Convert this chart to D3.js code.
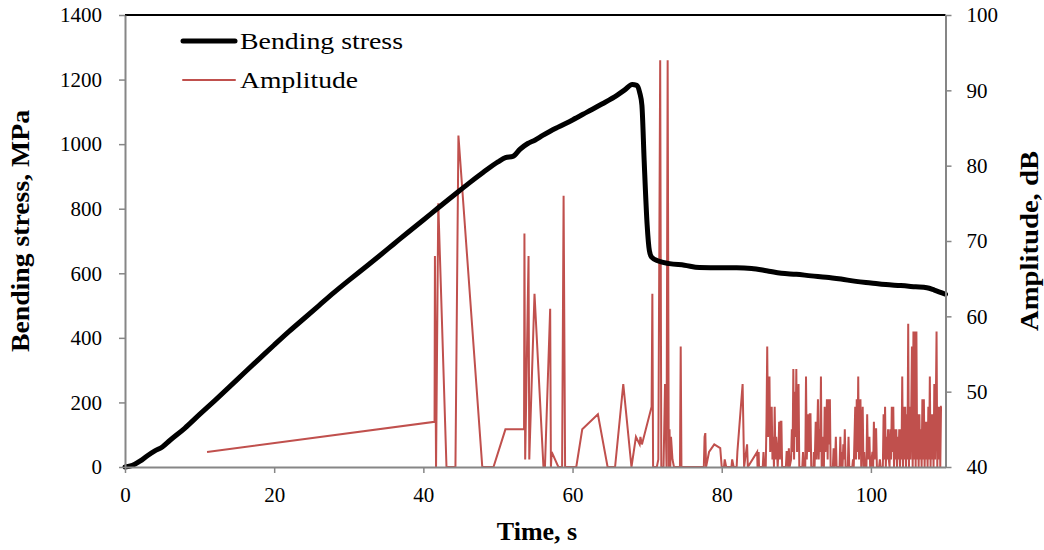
<!DOCTYPE html>
<html>
  <head>
    <meta charset="utf-8">
    <title>bending stress and amplitude</title>
    <style>
      body { margin: 0; background: #fff; }
      .axis path, .axis line { stroke: #868686; }
      .axis text { font-family: "Liberation Serif", serif; font-size: 21px; fill: #000; }
    </style>
  </head>
  <body>
    <div id="container"></div>
    <script src="https://cdn.jsdelivr.net/npm/d3@7"></script>
    <script>
      // bending stress curve (s, MPa)
      var stressTime = [0,1,2,3,4,5,6,8,10,12,14,16,18,20,22,24,26,28,30,32,34,36,38,40,42,44,46,48,50,51,52,53,54,55,56,57,58,60,62,64,66,67,68,68.6,69.0,69.3,69.6,70.0,70.3,70.6,71.5,73,75,77,80,82,84,86,88,90,92,94,96,98,100,102,104,106,107.5,108.5,110];
      var stressMPa  = [0,5,18,35,50,62,82,120,163,205,248,292,335,378,420,460,500,540,578,615,652,690,728,765,803,840,877,912,945,958,962,985,1002,1013,1027,1040,1052,1075,1100,1125,1152,1168,1185,1182,1160,1120,950,750,670,650,638,630,625,618,617,617,615,608,600,597,592,588,582,575,570,565,562,558,555,548,535];

      // acoustic emission amplitude, [time s, amplitude dB]
      var ampPoints = [
        [11.0,42],[41.5,46],[41.55,68],[41.7,40],[42.0,75],[43.1,40],[44.3,40],[44.7,84],[47.9,40],[49.4,40],
        [51.0,45],[53.5,45],[53.55,71],[53.65,41],[54.1,68],[54.2,41],[54.9,63],[56.1,40],[56.3,40],[57.0,61],
        [57.1,40],[57.2,42],[58.1,40],[58.6,40],[58.8,76],[59.0,40],[60.5,40],[61.3,45],[63.4,47],[64.7,40],
        [65.7,40],[66.8,51],[67.9,40],[68.5,44],[69.0,43],[69.1,44],[69.3,43],[70.6,48],[70.7,63],[70.8,40],
        [71.3,40],[71.5,41],[71.75,94],[71.9,40],[72.2,40],[72.4,51],[72.6,40],[72.75,94],[72.9,40],[73.0,45],
        [73.1,40],[73.2,44],[73.4,41],[73.6,40],[74.4,40],[74.5,56],[74.6,40],[77.6,40],[77.7,44],[77.8,44.5],
        [77.9,40],[78.3,42],[79.0,43],[79.8,42.5],[80.0,40],[80.3,40],[80.4,41],[80.6,40],[81.3,40],[81.4,41],
        [81.6,40],[82.0,40],[82.1,42],[82.8,51],[83.0,40],[83.4,43],[83.5,40],
        [84.75,42],[84.8,40],[84.95,42],[85.0,40],[85.5,40],[85.6,42],[85.7,40],[85.9,40],[86.0,46],[86.1,56],
        [86.2,44],[86.3,45],[86.4,52],[86.5,42],[86.6,44],[86.7,48],[86.8,41],[86.9,44],[87.0,40],[87.1,48],
        [87.2,41],[87.3,44],[87.4,42.5],[87.5,40],[87.6,42],[87.7,46],[87.8,41],[87.9,46],[88.0,46],[88.1,40],
        [88.6,40],[88.7,42],[88.8,42],[88.9,40],[89.0,42.5],[89.1,40],[89.3,41],[89.4,45],[89.5,42],[89.6,53],
        [89.7,41],[89.8,50],[89.9,44],[90.0,53],[90.1,42],[90.2,46],[90.3,51],[90.4,40],[90.8,40],[90.9,42],
        [91.0,40],[91.2,40],[91.3,52],[91.4,41],[91.5,44],[91.6,47],[91.7,42],[91.8,47],[91.9,47],[92.0,40],
        [92.3,40],[92.35,42],[92.45,40],[92.6,46],[92.7,41],[92.8,44],[92.9,49],[93.0,41],[93.1,45],[93.2,42],
        [93.3,52],[93.4,40],[93.5,44],[93.6,41],[93.7,40],[93.8,48],[93.9,42],[94.0,44],[94.1,49],[94.2,41],
        [94.3,49],[94.4,43],[94.5,49],[94.6,40],[94.9,40],
        [95.0,42.5],[95.1,40],[95.2,41],[95.3,44],[95.4,40],[95.5,40],[95.8,40],[95.9,44],[96.0,40],[96.1,42],
        [96.2,40],[96.3,43],[96.4,41],[96.5,45],[96.6,40],[96.9,40],[97.0,44],[97.1,40],[97.5,40],[97.6,41],
        [97.7,40],[97.8,44],[97.9,48],[98.0,41],[98.1,49],[98.2,42],[98.3,52],[98.4,41],[98.5,46],[98.6,49],
        [98.7,40],[98.8,44],[98.9,48],[99.0,40],[99.1,42],[99.2,40],[99.3,41],[99.4,40],[99.5,47],[99.6,41],
        [99.7,43],[99.8,44],[99.9,40],[100.0,40],[100.1,41],[100.2,42],[100.3,40],[100.4,46],[100.5,41],[100.6,45],
        [100.7,45],[100.8,40],[101.1,40],[101.2,41],[101.3,40],[101.6,40],[101.7,47],[101.8,41],[101.9,48],[102.0,40],
        [102.1,44],[102.2,41],[102.3,45],[102.4,41],
        [102.5,40],[102.6,45],[102.7,41],[102.8,48],[102.9,42],[103.0,48],[103.1,40],[103.2,45],[103.3,41],[103.4,45],
        [103.5,40],[103.6,44],[103.7,41],[103.8,45],[103.9,40],[104.0,45],[104.1,41],[104.2,52],[104.3,40],[104.4,48],
        [104.5,41],[104.6,48],[104.7,40],[104.8,47],[104.9,41],[105.0,59],[105.1,40],[105.2,48],[105.3,41],[105.4,47],
        [105.5,56],[105.6,40],[105.7,58],[105.8,41],[105.9,58],[106.0,40],[106.1,58],[106.2,41],[106.3,47],[106.4,40],
        [106.5,47],[106.6,41],[106.7,45],[106.8,40],[106.9,49],[107.0,41],[107.1,49],[107.2,40],[107.3,46],[107.4,41],
        [107.5,46],[107.6,40],[107.7,48],[107.8,41],[107.9,52],[108.0,40],[108.1,47],[108.2,41],[108.3,47],[108.4,40],
        [108.5,51],[108.6,41],[108.7,48],[108.8,58],[108.9,40],[109.0,48],[109.1,41],[109.2,48],[109.3,40],[109.4,48],
        [109.5,48]
      ];

      var stressTicks = [0,200,400,600,800,1000,1200,1400];
      var ampTicks = [40,50,60,70,80,90,100];
      var timeTicks = [0,20,40,60,80,100];

      var W = 1044, H = 550;
      var mLeft = 125, mRight = 945.5, mTop = 15, mBottom = 467;

      var x = d3.scaleLinear().domain([0, 110]).range([mLeft, mRight]);
      var yL = d3.scaleLinear().domain([0, 1400]).range([mBottom, mTop]);
      var yR = d3.scaleLinear().domain([40, 100]).range([mBottom, mTop]);

      var svg = d3.select("#container").append("svg")
        .attr("width", W).attr("height", H);

      svg.append("defs").append("clipPath").attr("id", "plot")
        .append("rect").attr("x", mLeft).attr("y", mTop)
        .attr("width", mRight - mLeft).attr("height", mBottom - mTop);

      // top border of plot area
      svg.append("line")
        .attr("x1", mLeft).attr("x2", mRight).attr("y1", mTop).attr("y2", mTop)
        .style("stroke", "#000").style("stroke-width", 2);

      var stressData = stressTime.map(function(t, i) { return {t: t, v: stressMPa[i]}; });

      svg.append("path")
        .datum(ampPoints)
        .attr("clip-path", "url(#plot)")
        .attr("d", d3.line().x(function(d) { return x(d[0]); }).y(function(d) { return yR(d[1]); }))
        .style("fill", "none").style("stroke", "#C0504D").style("stroke-width", 2);

      svg.append("path")
        .datum(stressData)
        .attr("d", d3.line().x(function(d) { return x(d.t); }).y(function(d) { return yL(d.v); }).curve(d3.curveMonotoneX))
        .style("fill", "none").style("stroke", "#000").style("stroke-width", 5)
        .style("stroke-linejoin", "round").style("stroke-linecap", "round");

      // axes
      svg.append("g").attr("class", "axis")
        .attr("transform", "translate(" + mLeft + ",0)")
        .call(d3.axisLeft(yL).tickValues(stressTicks).tickFormat(d3.format("d")).tickSize(6).tickSizeOuter(0).tickPadding(17));
      svg.append("g").attr("class", "axis")
        .attr("transform", "translate(" + mRight + ",0)")
        .call(d3.axisRight(yR).tickValues(ampTicks).tickFormat(d3.format("d")).tickSize(6).tickSizeOuter(0).tickPadding(15));
      svg.append("g").attr("class", "axis")
        .attr("transform", "translate(0," + mBottom + ")")
        .call(d3.axisBottom(x).tickValues(timeTicks).tickFormat(d3.format("d")).tickSize(6).tickSizeOuter(0).tickPadding(14));
      svg.selectAll(".axis path").style("stroke-width", 2);
      svg.selectAll(".axis line").style("stroke-width", 1.5);

      // titles
      svg.append("text")
        .attr("transform", "translate(29,231) rotate(-90)")
        .attr("text-anchor", "middle")
        .attr("textLength", 242).attr("lengthAdjust", "spacingAndGlyphs")
        .style("font-family", "Liberation Serif").style("font-weight", "bold").style("font-size", "25px")
        .text("Bending stress, MPa");
      svg.append("text")
        .attr("transform", "translate(1038,241) rotate(-90)")
        .attr("text-anchor", "middle")
        .attr("textLength", 180).attr("lengthAdjust", "spacingAndGlyphs")
        .style("font-family", "Liberation Serif").style("font-weight", "bold").style("font-size", "25px")
        .text("Amplitude, dB");
      svg.append("text")
        .attr("x", 537).attr("y", 540)
        .attr("text-anchor", "middle")
        .style("font-family", "Liberation Serif").style("font-weight", "bold").style("font-size", "26px")
        .text("Time, s");

      // legend
      var legend = [{name: "Bending stress", color: "#000", w: 5, y: 41, len: 163},
                    {name: "Amplitude", color: "#C0504D", w: 2, y: 80, len: 118}];
      legend.forEach(function(l) {
        svg.append("line")
          .attr("x1", 183).attr("x2", 235).attr("y1", l.y).attr("y2", l.y)
          .style("stroke", l.color).style("stroke-width", l.w).style("stroke-linecap", "round");
        svg.append("text")
          .attr("x", 240).attr("y", l.y + 8)
          .attr("textLength", l.len).attr("lengthAdjust", "spacingAndGlyphs")
          .style("font-family", "Liberation Serif").style("font-size", "24px")
          .text(l.name);
      });
    </script>
  </body>
</html>
